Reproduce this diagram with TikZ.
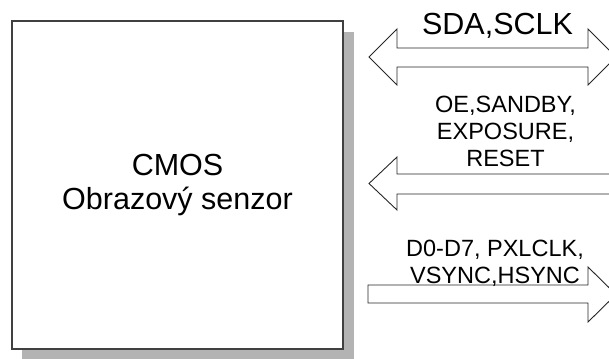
\documentclass[tikz,border=0pt]{standalone}
\usepackage{fontspec}
\setmainfont{Liberation Sans}
\definecolor{shadowgray}{HTML}{B3B3B3}
\definecolor{edgegray}{HTML}{404040}
\begin{document}
\begin{tikzpicture}[x=1pt,y=-1pt,
  outline/.style={draw=black!85,line width=0.9pt,line join=miter},
  sensorbox/.style={draw=edgegray,line width=1.3pt,fill=white,
    minimum width=331pt,minimum height=328pt,inner sep=0pt,
    align=center,font=\fontsize{30.5}{34}\selectfont},
  biglabel/.style={font=\fontsize{30.5}{36}\selectfont,inner sep=0pt},
  siglabel/.style={font=\fontsize{23.5}{27}\selectfont,inner sep=0pt,
    align=center,anchor=north}]
\useasboundingbox (0,0) rectangle (609,358);
\clip (0,0) rectangle (609,358);

% drop shadow and the sensor block
\fill[shadowgray] (22,32) rectangle (354,360);
\node[sensorbox] (sensor) at (177.5,185) {CMOS\\Obrazový senzor};

% bidirectional bus: SDA, SCLK
\draw[outline] (397,48) -- (588,48) -- (588,29) -- (616,57) -- (588,85)
  -- (588,67) -- (397,67) -- (397,85) -- (369,57) -- (397,29) -- cycle;
\node[biglabel,anchor=base] (sda) at (497.5,35) {SDA,SCLK};

% control lines into the sensor
\draw[outline] (620,174) -- (397,174) -- (397,157) -- (369,183.5)
  -- (397,210) -- (397,194) -- (620,194);
\node[siglabel] (ctl) at (505.5,96) {OE,SANDBY,\\EXPOSURE,\\RESET};

% data and sync lines out of the sensor
\draw[outline] (368,285) -- (588,285) -- (588,267) -- (616,294.5)
  -- (588,322) -- (588,303) -- (368,303) -- cycle;
\node[siglabel] (dat) at (495,239.5) {D0-D7, PXLCLK,\\VSYNC,HSYNC};
\end{tikzpicture}
\end{document}
